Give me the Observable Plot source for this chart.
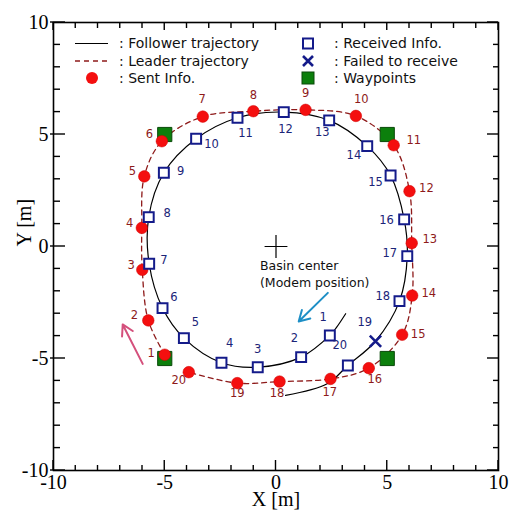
<!DOCTYPE html>
<html><head><meta charset="utf-8">
<script src="https://cdn.jsdelivr.net/npm/d3@7"></script>
<script src="https://cdn.jsdelivr.net/npm/@observablehq/plot@0.6"></script>
<style>body{margin:0;background:#fff}#chart{width:513px;height:511px}</style>
</head><body><div id="chart"></div>
<script>
// Sent Info. (leader) points 1..20
const sentX = [-5.00,-5.74,-6.01,-6.03,-5.92,-5.13,-3.29,-1.02,1.33,3.59,5.29,6.00,6.10,6.12,5.67,4.17,2.45,0.16,-1.74,-3.92];
const sentY = [-4.83,-3.30,-1.04,0.83,3.13,4.70,5.80,6.04,6.10,5.83,4.52,2.47,0.15,-2.19,-3.94,-5.43,-5.91,-6.03,-6.10,-5.61];
const sentLabelX = [-5.61,-6.36,-6.51,-6.58,-6.45,-5.69,-3.32,-1.02,1.33,3.83,6.19,6.76,6.91,6.87,6.39,4.44,2.42,0.05,-1.74,-4.37];
const sentLabelY = [-4.76,-3.08,-0.85,1.04,3.36,5.03,6.55,6.74,6.82,6.55,4.76,2.58,0.31,-2.08,-3.94,-5.95,-6.50,-6.55,-6.55,-5.98];

// Received Info. (follower) points 1..20 (19 failed)
const recvX = [2.42,1.13,-0.82,-2.45,-4.14,-5.10,-5.70,-5.72,-5.04,-3.59,-1.73,0.35,2.39,4.10,5.15,5.76,5.90,5.55,4.47,3.23];
const recvY = [-3.97,-4.94,-5.39,-5.19,-4.09,-2.75,-0.77,1.31,3.29,4.81,5.75,6.00,5.63,4.48,3.17,1.21,-0.43,-2.44,-4.23,-5.31];
const recvLabelX = [2.12,0.83,-0.82,-2.08,-3.62,-4.59,-5.04,-4.89,-4.29,-2.90,-1.37,0.43,2.08,3.50,4.47,4.97,5.11,4.80,3.99,2.87];
const recvLabelY = [-3.16,-4.12,-4.61,-4.34,-3.38,-2.26,-0.63,1.46,3.36,4.58,5.06,5.25,5.10,4.06,2.87,1.19,-0.30,-2.23,-3.38,-4.42];
const failedIds = [19];

// Waypoints
const waypointX = [-5, 5, 5, -5];
const waypointY = [5, 5, -5, -5];

// Follower trajectory vertices
const followerX = [3.13,2.72,2.42,1.13,-0.82,-2.45,-4.14,-5.10,-5.70,-5.72,-5.04,-3.59,-1.73,0.35,2.39,4.10,5.15,5.76,5.90,5.55,4.47,3.23,2.30,0.43];
const followerY = [-3.00,-3.61,-3.97,-4.94,-5.39,-5.19,-4.09,-2.75,-0.77,1.31,3.29,4.81,5.75,6.00,5.63,4.48,3.17,1.21,-0.43,-2.44,-4.23,-5.31,-6.13,-6.65];

// Annotation arrows
const arrowX1 = [2.33, -5.99];
const arrowY1 = [-2.07, -5.24];
const arrowX2 = [1.02, -6.89];
const arrowY2 = [-3.35, -3.48];

// Basin center
const centerX = [0], centerY = [0];
const centerText = ["Basin center\n(Modem position)"];
const centerTextX = [-0.72], centerTextY = [-1.18];

const axisTicks = [-10, -5, 0, 5, 10];
const legendLeft = [": Follower trajectory", ": Leader trajectory", ": Sent Info."];
const legendRight = [": Received Info.", ": Failed to receive", ": Waypoints"];

const ids = d3.range(1, 21);
const sent = ids.map((id, i) => ({id, x: sentX[i], y: sentY[i], lx: sentLabelX[i], ly: sentLabelY[i]}));
const recv = ids.map((id, i) => ({id, x: recvX[i], y: recvY[i], lx: recvLabelX[i], ly: recvLabelY[i], failed: failedIds.includes(id)}));
const follower = followerX.map((x, i) => ({x, y: followerY[i]}));
const waypoints = waypointX.map((x, i) => ({x, y: waypointY[i]}));
const arrows = arrowX1.map((x1, i) => ({x1, y1: arrowY1[i], x2: arrowX2[i], y2: arrowY2[i]}));

const RED = "#f40f0f", DARKRED = "#8e1a1a", NAVY = "#141b8a", NAVYTXT = "#1b2478";
const serif = "'Liberation Serif','Times New Roman',serif";
const sans = "'DejaVu Sans',Verdana,sans-serif";

const chart = Plot.plot({
  width: 513, height: 511,
  marginLeft: 53, marginRight: 15, marginTop: 22, marginBottom: 41,
  style: {fontFamily: sans, background: "#fff"},
  x: {domain: [-10, 10]},
  y: {domain: [-10, 10]},
  marks: [
    Plot.axisX({ticks: axisTicks, tickSize: 0, tickPadding: 4, tickFormat: d => String(d), fontSize: 20, fontFamily: serif, fill: "#000", label: null}),
    Plot.axisY({ticks: axisTicks, tickSize: 0, tickPadding: 5, tickFormat: d => String(d), fontSize: 20, fontFamily: serif, fill: "#000", label: null}),
    Plot.text(["X [m]"], {text: d => d, frameAnchor: "bottom", dy: 35, fontSize: 20, fontFamily: serif, fill: "#000"}),
    Plot.text(["Y [m]"], {text: d => d, frameAnchor: "left", dx: -29, rotate: -90, fontSize: 20, fontFamily: serif, fill: "#000"}),
    Plot.line(sent, {x: "x", y: "y", curve: "catmull-rom", stroke: DARKRED, strokeWidth: 1.3, strokeDasharray: "5,4"}),
    Plot.line(follower, {x: "x", y: "y", curve: "catmull-rom", stroke: "#000", strokeWidth: 1.2}),
    Plot.dot(centerX.map((x, i) => ({x, y: centerY[i]})), {x: "x", y: "y", symbol: "plus", r: 7.4, stroke: "#000", strokeWidth: 1.2}),
    Plot.text(centerText, {x: () => centerTextX[0], y: () => centerTextY[0], text: d => d, textAnchor: "start", lineAnchor: "middle", lineHeight: 1.36, fontSize: 12.5, fontFamily: sans, fill: "#111"}),
    Plot.arrow([arrows[0]], {x1: "x1", y1: "y1", x2: "x2", y2: "y2", stroke: "#1e8fc6", strokeWidth: 2, headLength: 9}),
    Plot.arrow([arrows[1]], {x1: "x1", y1: "y1", x2: "x2", y2: "y2", stroke: "#d4507c", strokeWidth: 2, headLength: 9}),
    Plot.dot(waypoints, {x: "x", y: "y", symbol: "square", r: 8, fill: "#0c7f0c", stroke: "#0a4a0a", strokeWidth: 1}),
    Plot.dot(sent, {x: "x", y: "y", r: 5.8, fill: RED, stroke: "#d00000", strokeWidth: 0.5}),
    Plot.dot(recv.filter(d => !d.failed), {x: "x", y: "y", symbol: "square", r: 5.6, fill: "#fff", stroke: NAVY, strokeWidth: 2}),
    Plot.dot(recv.filter(d => d.failed), {x: "x", y: "y", symbol: "times", r: 5.2, stroke: NAVY, strokeWidth: 2.6}),
    Plot.text(sent, {x: "lx", y: "ly", text: d => String(d.id), fill: DARKRED, fontSize: 11.5, fontFamily: sans}),
    Plot.text(recv, {x: "lx", y: "ly", text: d => String(d.id), fill: NAVYTXT, fontSize: 11.5, fontFamily: sans}),
    Plot.frame({stroke: "#000", strokeWidth: 1.6})
  ]
});
document.getElementById("chart").appendChild(chart);

// inward ticks drawn with the plot's own scales
const xs = chart.scale("x"), ys = chart.scale("y");
const X = v => xs.apply(v), Y = v => ys.apply(v);
const svg = d3.select(chart);
const tg = svg.append("g").attr("stroke", "#000").attr("stroke-width", 1.4);
d3.range(-10, 11).forEach(v => {
  const major = v % 5 === 0;
  const L = major ? 10 : 5;
  tg.append("line").attr("x1", X(v)).attr("x2", X(v)).attr("y1", Y(-10)).attr("y2", Y(-10) - L);
  tg.append("line").attr("x1", X(v)).attr("x2", X(v)).attr("y1", Y(10)).attr("y2", Y(10) + (major ? 8 : 6));
  tg.append("line").attr("y1", Y(v)).attr("y2", Y(v)).attr("x1", X(-10) - (major ? 3 : 0)).attr("x2", X(-10) + (major ? 12 : 7));
  tg.append("line").attr("y1", Y(v)).attr("y2", Y(v)).attr("x1", X(10)).attr("x2", X(10) - (major ? 11 : 5));
});

// legend
const lg = svg.append("g").attr("font-family", sans).attr("font-size", 14).attr("fill", "#111").attr("text-anchor", "start");
const rows = [43.5, 61, 78];
lg.append("line").attr("x1", 75).attr("x2", 108).attr("y1", rows[0]).attr("y2", rows[0]).attr("stroke", "#000").attr("stroke-width", 1.2);
lg.append("line").attr("x1", 75).attr("x2", 108).attr("y1", rows[1]).attr("y2", rows[1]).attr("stroke", DARKRED).attr("stroke-width", 1.3).attr("stroke-dasharray", "5,4");
lg.append("circle").attr("cx", 92).attr("cy", rows[2]).attr("r", 6).attr("fill", RED);
lg.append("rect").attr("x", 303).attr("y", rows[0] - 5).attr("width", 10).attr("height", 10).attr("fill", "#fff").attr("stroke", NAVY).attr("stroke-width", 2);
lg.append("path").attr("d", `M${303},${rows[1]-5}L${313},${rows[1]+5}M${313},${rows[1]-5}L${303},${rows[1]+5}`).attr("stroke", NAVY).attr("stroke-width", 2.6);
lg.append("rect").attr("x", 302).attr("y", rows[2] - 6).attr("width", 12).attr("height", 12).attr("fill", "#0c7f0c").attr("stroke", "#0a4a0a");
legendLeft.forEach((t, i) => lg.append("text").attr("x", 119).attr("y", rows[i]).attr("dy", "0.35em").text(t));
legendRight.forEach((t, i) => lg.append("text").attr("x", 334).attr("y", rows[i]).attr("dy", "0.35em").text(t));
</script>
</body></html>
